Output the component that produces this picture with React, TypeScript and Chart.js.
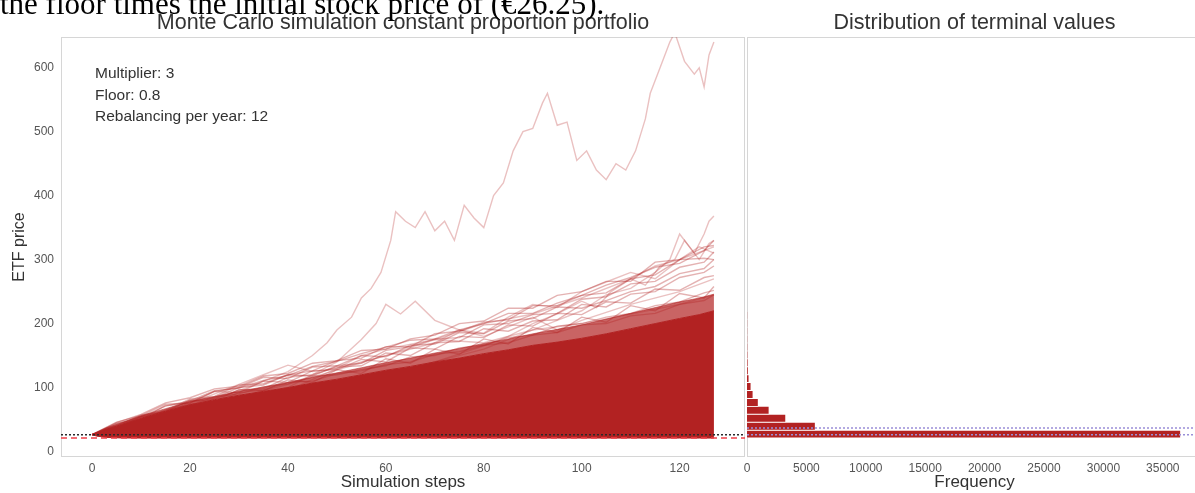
import React, { useEffect, useRef } from "react";
import { Chart, registerables } from "chart.js";
Chart.register(...registerables);

const FONT = "'Liberation Sans', Arial, sans-serif";
const FIREBRICK = "#B22222";

// ---- constants ----
const INITIAL_PRICE = 26.25;
const FLOOR_VALUE = 21;
const TERMINAL_MEAN = 36.7;

const X_TICKS = [0, 20, 40, 60, 80, 100, 120];
const Y_TICKS = [0, 100, 200, 300, 400, 500, 600];
const FREQ_TICKS = [0, 5000, 10000, 15000, 20000, 25000, 30000, 35000];

// envelope of the simulated paths (steps and values)
const ENV_STEPS = [0, 1, 3, 6, 10, 15, 20, 25, 30, 35, 40, 45, 50, 55, 60, 65, 70, 75, 80, 85, 90, 95, 100, 105, 110, 115, 120, 124, 127];
const ENV_LOWER = [26.25, 24, 22, 21.2, 21, 21, 21, 21, 21, 21, 21, 21, 21, 21, 21, 21, 21, 21, 21, 21, 21, 21, 21, 21, 21, 21, 21, 21, 21];
const ENV_SOLID = [26.25, 29, 35, 42, 52, 63, 73, 81, 88, 94, 100, 107, 113, 120, 127, 133, 140, 146, 153, 159, 166, 171, 177, 184, 192, 200, 208, 214, 220];
const ENV_DENSE = [26.25, 30, 37, 45, 56, 67, 78, 86, 94, 101, 108, 116, 123, 131, 139, 146, 154, 161, 169, 176, 184, 191, 198, 207, 216, 225, 234, 240, 246];

// individual paths (sampled every few steps)
const MESH_STEPS = [0, 5, 10, 15, 20, 25, 30, 35, 40, 45, 50, 55, 60, 65, 70, 75, 80, 85, 90, 95, 100, 105, 110, 115, 120, 125, 127];
const MESH_1 = [26.25, 40, 55, 62, 80, 78, 97, 95, 112, 108, 128, 122, 145, 138, 160, 152, 176, 168, 194, 186, 210, 202, 228, 220, 247, 240, 258];
const MESH_2 = [26.25, 44, 50, 72, 76, 94, 92, 110, 108, 126, 128, 144, 140, 162, 160, 180, 178, 198, 196, 216, 214, 234, 232, 254, 252, 272, 275];
const MESH_3 = [26.25, 36, 54, 58, 78, 82, 96, 98, 116, 120, 132, 134, 154, 150, 170, 172, 192, 188, 204, 206, 230, 226, 246, 250, 272, 280, 290];
const MESH_4 = [26.25, 46, 56, 74, 76, 94, 100, 116, 114, 132, 134, 150, 148, 166, 168, 186, 184, 204, 208, 226, 224, 236, 250, 258, 278, 286, 300];
const MESH_5 = [26.25, 40, 57, 62, 80, 84, 100, 104, 120, 118, 134, 138, 158, 164, 176, 178, 198, 200, 214, 216, 238, 242, 262, 266, 288, 296, 312];
const MESH_6 = [26.25, 38, 54, 64, 82, 86, 104, 106, 120, 126, 142, 146, 164, 164, 184, 188, 202, 206, 228, 228, 244, 248, 270, 276, 300, 302, 300];
const MESH_7 = [26.25, 45, 58, 76, 84, 98, 102, 118, 122, 138, 142, 158, 160, 176, 182, 200, 204, 224, 224, 244, 250, 266, 266, 296, 300, 320, 322];
const MESH_8 = [26.25, 36, 51, 58, 74, 78, 92, 96, 108, 110, 122, 126, 136, 140, 152, 156, 166, 170, 182, 186, 198, 200, 212, 216, 230, 236, 245];
const MESH_9 = [26.25, 41, 49, 65, 73, 85, 90, 101, 106, 118, 120, 128, 134, 148, 150, 162, 166, 178, 182, 196, 200, 210, 216, 228, 234, 248, 252];
const MESH_10 = [26.25, 43, 54, 71, 79, 95, 99, 111, 119, 133, 141, 153, 163, 174, 176, 190, 200, 216, 216, 232, 244, 260, 272, 288, 294, 314, 330];

// individual outlying paths
const PATH_1_STEPS = [0, 10, 20, 30, 35, 40, 45, 48, 50, 53, 55, 57, 59, 61, 62, 64, 66, 68, 70, 72, 74, 76, 78, 80, 82, 84, 86, 88, 90, 92, 93, 95, 97, 99, 101, 103, 105, 107, 109, 111, 113, 114, 116, 118, 119, 121, 123, 124, 125, 126, 127];
const PATH_1_VALUES = [26.25, 50, 70, 95, 110, 125, 150, 170, 190, 210, 240, 255, 280, 330, 375, 360, 350, 375, 345, 360, 330, 385, 365, 350, 400, 420, 470, 500, 505, 545, 560, 510, 515, 455, 470, 440, 425, 450, 440, 470, 520, 560, 600, 640, 655, 610, 590, 600, 570, 620, 640];
const PATH_2_STEPS = [0, 10, 20, 30, 40, 50, 60, 70, 80, 85, 90, 95, 100, 103, 106, 110, 113, 116, 119, 121, 123, 125, 126, 127];
const PATH_2_VALUES = [26.25, 45, 58, 72, 85, 100, 118, 140, 165, 180, 200, 215, 235, 225, 250, 270, 260, 290, 300, 330, 310, 340, 360, 368];
const PATH_3_STEPS = [0, 20, 40, 60, 70, 80, 90, 95, 100, 105, 110, 115, 118, 120, 122, 124, 126, 127];
const PATH_3_VALUES = [26.25, 60, 88, 120, 140, 160, 190, 205, 220, 245, 255, 280, 300, 340, 320, 300, 325, 330];
const PATH_4_STEPS = [0, 20, 30, 40, 45, 50, 55, 58, 60, 63, 66, 70, 75, 80, 85, 90, 95, 100, 110, 120, 127];
const PATH_4_VALUES = [26.25, 62, 80, 100, 120, 140, 175, 200, 230, 215, 235, 205, 190, 180, 195, 210, 190, 205, 230, 250, 270];
const PATH_5_STEPS = [0, 10, 20, 30, 35, 40, 45, 50, 55, 60, 70, 80, 90, 100, 110, 120, 127];
const PATH_5_VALUES = [26.25, 48, 75, 105, 120, 135, 125, 130, 150, 160, 175, 170, 190, 200, 215, 230, 245];
const PATH_6_STEPS = [0, 20, 40, 60, 70, 75, 80, 85, 90, 95, 100, 105, 110, 115, 120, 127];
const PATH_6_VALUES = [26.25, 65, 105, 150, 170, 190, 185, 210, 230, 225, 250, 265, 280, 270, 300, 320];
const PATH_7_STEPS = [0, 20, 40, 50, 60, 70, 80, 90, 100, 110, 115, 120, 124, 127];
const PATH_7_VALUES = [26.25, 58, 95, 130, 150, 175, 200, 215, 240, 270, 290, 300, 320, 310];

// histogram of terminal values
const HIST_BIN_CENTERS = [27.2, 39.6, 52.0, 64.4, 76.7, 89.1, 101.5, 113.9, 126.3, 138.7, 151.1, 163.4, 175.8, 188.2, 200.6, 213.0];
const HIST_COUNTS = [36500, 5750, 3260, 1860, 950, 510, 340, 170, 80, 50, 30, 18, 10, 6, 4, 3];

const pts = (xs: number[], ys: number[]) => xs.map((x, i) => ({ x, y: ys[i] }));

const framePlugin = {
  id: "frame",
  beforeDatasetsDraw(chart: any) {
    const { ctx, chartArea: a } = chart;
    ctx.save();
    ctx.strokeStyle = "#d6d6d6";
    ctx.lineWidth = 1;
    ctx.strokeRect(a.left + 0.5, a.top + 0.5, a.right - a.left - 1, a.bottom - a.top - 1);
    ctx.restore();
  },
};

const axesTitle = {
  id: "axesTitle",
  afterDraw(chart: any, _args: any, opts: any) {
    const { ctx, chartArea: a } = chart;
    ctx.save();
    ctx.fillStyle = "#333";
    ctx.font = `21.5px ${FONT}`;
    ctx.textAlign = "center";
    ctx.textBaseline = "alphabetic";
    ctx.fillText(opts.text, (a.left + a.right) / 2, a.top - 8);
    ctx.restore();
  },
};

const hline = (chart: any, value: number, color: string, dash: number[], width: number) => {
  const { ctx, chartArea: a, scales } = chart;
  const y = scales.y.getPixelForValue(value);
  ctx.save();
  ctx.beginPath();
  ctx.rect(a.left, a.top, a.right - a.left, a.bottom - a.top);
  ctx.clip();
  ctx.strokeStyle = color;
  ctx.lineWidth = width;
  ctx.setLineDash(dash);
  ctx.beginPath();
  ctx.moveTo(a.left, y);
  ctx.lineTo(a.right, y);
  ctx.stroke();
  ctx.restore();
};

const leftLines = {
  id: "leftLines",
  afterDatasetsDraw(chart: any) {
    hline(chart, INITIAL_PRICE, "#2a2a2a", [2, 2], 1.5);
    hline(chart, FLOOR_VALUE, "#f0404a", [6, 4], 1.5);
  },
};
const rightLines = {
  id: "rightLines",
  afterDatasetsDraw(chart: any) {
    hline(chart, TERMINAL_MEAN, "#9a8fd8", [2, 2], 1.5);
    hline(chart, INITIAL_PRICE, "#9a8fd8", [2, 2], 1.5);
  },
};

const Y_MIN = -8.6;
const Y_MAX = 648;
const tickFont = { family: FONT, size: 12 };
const titleFont = { family: FONT, size: 17 };
const noPad = (s: any) => { s.height = 36; s.paddingLeft = 0; s.paddingRight = 0; };

export default function App() {
  const leftRef = useRef<HTMLCanvasElement>(null);
  const rightRef = useRef<HTMLCanvasElement>(null);

  useEffect(() => {
    const lineDs = (xs: number[], ys: number[], alpha: number, order: number) => ({
      data: pts(xs, ys),
      borderColor: `rgba(178,34,34,${alpha})`,
      borderWidth: 1.4,
      pointRadius: 0,
      fill: false,
      tension: 0,
      order,
    });
    const meshes = [MESH_1, MESH_2, MESH_3, MESH_4, MESH_5, MESH_6, MESH_7, MESH_8, MESH_9, MESH_10];
    const left = new Chart(leftRef.current!, {
      type: "line",
      data: {
        datasets: [
          { data: pts(ENV_STEPS, ENV_LOWER), borderColor: FIREBRICK, borderWidth: 1, pointRadius: 0, fill: false, order: 5 },
          { data: pts(ENV_STEPS, ENV_SOLID), borderColor: FIREBRICK, borderWidth: 1, pointRadius: 0, fill: 0, backgroundColor: FIREBRICK, order: 5 },
          { data: pts(ENV_STEPS, ENV_DENSE), borderColor: "rgba(178,34,34,0.5)", borderWidth: 1, pointRadius: 0, fill: 1, backgroundColor: "rgba(178,34,34,0.7)", order: 6 },
          ...meshes.map((m) => lineDs(MESH_STEPS, m, 0.35, 7)),
          lineDs(PATH_1_STEPS, PATH_1_VALUES, 0.28, 8),
          lineDs(PATH_2_STEPS, PATH_2_VALUES, 0.28, 8),
          lineDs(PATH_3_STEPS, PATH_3_VALUES, 0.28, 8),
          lineDs(PATH_4_STEPS, PATH_4_VALUES, 0.28, 8),
          lineDs(PATH_5_STEPS, PATH_5_VALUES, 0.28, 8),
          lineDs(PATH_6_STEPS, PATH_6_VALUES, 0.28, 8),
          lineDs(PATH_7_STEPS, PATH_7_VALUES, 0.28, 8),
        ] as any,
      },
      options: {
        animation: false,
        responsive: false,
        layout: { padding: { left: 0, right: 1, top: 37, bottom: 0 } },
        plugins: {
          legend: { display: false },
          tooltip: { enabled: false },
          title: { display: false },
          axesTitle: { text: "Monte Carlo simulation constant proportion portfolio" },
        },
        scales: {
          x: {
            type: "linear",
            min: -6.35,
            max: 133.35,
            grid: { display: false, drawTicks: false },
            border: { display: false },
            ticks: { color: "#555", font: tickFont, padding: 4, maxRotation: 0, callback: (v: any) => String(v) },
            afterBuildTicks: (s: any) => { s.ticks = X_TICKS.map((v) => ({ value: v })); },
            afterFit: noPad,
            title: { display: true, text: "Simulation steps", color: "#333", font: titleFont, padding: { top: 0, bottom: 0 } },
          },
          y: {
            type: "linear",
            min: Y_MIN,
            max: Y_MAX,
            grid: { display: false, drawTicks: false },
            border: { display: false },
            ticks: { color: "#555", font: tickFont, padding: 7, callback: (v: any) => String(v) },
            afterBuildTicks: (s: any) => { s.ticks = Y_TICKS.map((v) => ({ value: v })); },
            afterFit: (s: any) => { s.width = 61; s.paddingTop = 0; s.paddingBottom = 0; },
            title: { display: true, text: "ETF price", color: "#333", font: { family: FONT, size: 16 }, padding: { top: 10, bottom: 0 } },
          },
        },
      } as any,
      plugins: [framePlugin, leftLines, axesTitle],
    });

    const right = new Chart(rightRef.current!, {
      type: "bar",
      data: {
        datasets: [
          {
            data: pts(HIST_COUNTS, HIST_BIN_CENTERS),
            backgroundColor: FIREBRICK,
            borderColor: "rgba(255,255,255,0.8)",
            borderWidth: 0.8,
            borderSkipped: "start",
            barPercentage: 1,
            categoryPercentage: 1,
          },
        ] as any,
      },
      options: {
        animation: false,
        responsive: false,
        indexAxis: "y",
        layout: { padding: { left: 7, right: 8, top: 37, bottom: 0 } },
        plugins: {
          legend: { display: false },
          tooltip: { enabled: false },
          title: { display: false },
          axesTitle: { text: "Distribution of terminal values" },
        },
        scales: {
          x: {
            type: "linear",
            min: 0,
            max: 38300,
            grid: { display: false, drawTicks: false },
            border: { display: false },
            ticks: { color: "#555", font: tickFont, padding: 4, maxRotation: 0, callback: (v: any) => String(v) },
            afterBuildTicks: (s: any) => { s.ticks = FREQ_TICKS.map((v) => ({ value: v })); },
            afterFit: noPad,
            title: { display: true, text: "Frequency", color: "#333", font: titleFont, padding: { top: 0, bottom: 0 } },
          },
          y: {
            type: "linear",
            min: Y_MIN,
            max: Y_MAX,
            offset: false,
            display: false,
          },
        },
      } as any,
      plugins: [framePlugin, rightLines, axesTitle],
    });

    return () => {
      left.destroy();
      right.destroy();
    };
  }, []);

  return (
    <div style={{ position: "fixed", left: 0, top: 0, width: 1195, height: 493, overflow: "hidden", background: "#fff" }}>
      <canvas ref={leftRef} width={746} height={493} style={{ position: "absolute", left: 0, top: 0, width: 746, height: 493 }} />
      <canvas ref={rightRef} width={470} height={493} style={{ position: "absolute", left: 740, top: 0, width: 470, height: 493 }} />
      <div style={{ position: "absolute", left: 95, top: 62, font: `15.5px ${FONT}`, color: "#333", lineHeight: "21.5px", whiteSpace: "nowrap" }}>
        <div>Multiplier: 3</div>
        <div>Floor: 0.8</div>
        <div>Rebalancing per year: 12</div>
      </div>
      <div style={{ position: "absolute", left: 0, top: -12.5, font: "31px 'Liberation Serif', 'Times New Roman', serif", lineHeight: "31px", color: "#000", whiteSpace: "nowrap" }}>
        the floor times the initial stock price of (€26.25).
      </div>
    </div>
  );
}
